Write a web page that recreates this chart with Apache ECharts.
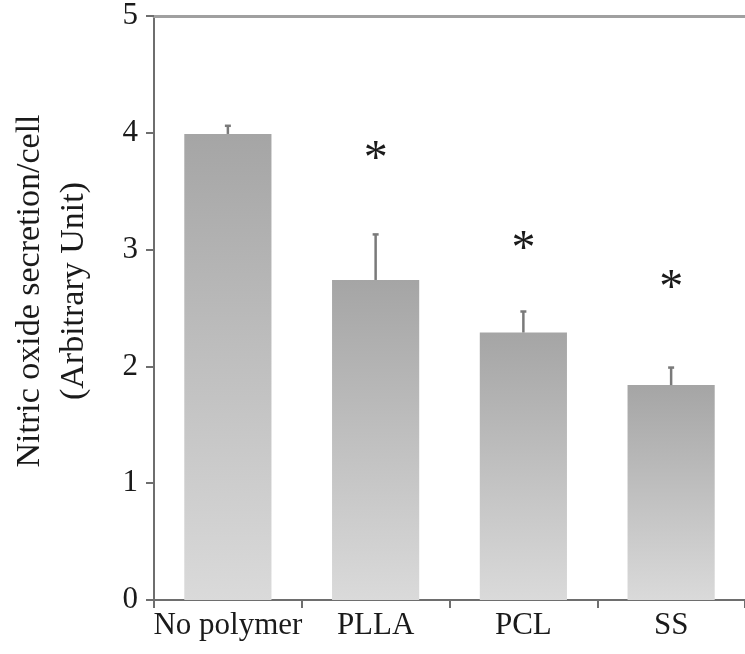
<!DOCTYPE html>
<html>
<head>
<meta charset="utf-8">
<script src="https://cdn.jsdelivr.net/npm/echarts@6/dist/echarts.min.js"></script>
<style>
html,body{margin:0;padding:0;background:#fff;}
#chart{width:745px;height:654px;}
</style>
</head>
<body>
<div id="chart"></div>
<script>
var categories = ['No polymer', 'PLLA', 'PCL', 'SS'];
var means = [3.99, 2.74, 2.29, 1.84];
var errTops = [4.06, 3.13, 2.47, 1.99];
var starIdx = [1, 2, 3];
var starVals = [3.82, 3.05, 2.72];
var yTicks = [0, 1, 2, 3, 4, 5];

var FONT = '"Liberation Serif", "Times New Roman", serif';
var chart = echarts.init(document.getElementById('chart'));

var errData = categories.map(function (c, i) { return [i, means[i], errTops[i]]; });
var starData = starIdx.map(function (k, i) { return [k, starVals[i]]; });

chart.setOption({
  animation: false,
  grid: { left: 154, top: 16, width: 598, height: 584, containLabel: false },
  xAxis: [{
    type: 'category',
    data: categories,
    position: 'bottom',
    axisLine: { onZero: false, lineStyle: { color: '#6e6e6e', width: 2 } },
    axisTick: { show: true, interval: 0, length: 8, inside: false, lineStyle: { color: '#6e6e6e', width: 2 } },
    axisLabel: { interval: 0, color: '#1a1a1a', fontFamily: FONT, fontSize: 31, margin: 10 }
  }, {
    type: 'category',
    data: categories,
    position: 'top',
    axisLine: { onZero: false, lineStyle: { color: '#a0a0a0', width: 3 } },
    axisTick: { show: false },
    axisLabel: { show: false }
  }],
  yAxis: {
    type: 'value',
    min: 0, max: 5, interval: 1,
    axisLine: { show: true, lineStyle: { color: '#6e6e6e', width: 2 } },
    axisTick: { show: true, length: 8, lineStyle: { color: '#6e6e6e', width: 2 } },
    splitLine: { show: false },
    axisLabel: { color: '#1a1a1a', fontFamily: FONT, fontSize: 31, margin: 16,
      formatter: function (v) { return yTicks.indexOf(v) >= 0 ? String(v) : ''; } },
    name: 'Nitric oxide secretion/cell\n(Arbitrary Unit)',
    nameLocation: 'middle',
    nameRotate: 90,
    nameGap: 58,
    nameTextStyle: { color: '#1a1a1a', fontFamily: FONT, fontSize: 34, lineHeight: 44, padding: [0, 0, 0, 34] }
  },
  series: [{
    type: 'bar',
    data: means,
    barCategoryGap: '41%',
    itemStyle: {
      color: new echarts.graphic.LinearGradient(0, 0, 0, 1, [
        { offset: 0, color: '#a5a5a5' },
        { offset: 1, color: '#dadada' }
      ])
    },
    z: 2
  }, {
    type: 'custom',
    data: errData,
    z: 3,
    renderItem: function (params, api) {
      var base = api.coord([api.value(0), api.value(1)]);
      var top = api.coord([api.value(0), api.value(2)]);
      var style = { stroke: '#7a7a7a', lineWidth: 2.5 };
      return { type: 'group', children: [
        { type: 'line', shape: { x1: base[0], y1: base[1], x2: top[0], y2: top[1] }, style: style },
        { type: 'line', shape: { x1: top[0] - 3, y1: top[1], x2: top[0] + 3, y2: top[1] }, style: style }
      ] };
    }
  }, {
    type: 'custom',
    data: starData,
    z: 4,
    renderItem: function (params, api) {
      var p = api.coord([api.value(0), api.value(1)]);
      return { type: 'text', x: p[0], y: p[1] + 7, style: {
        text: '*', fill: '#1a1a1a', font: '48px ' + FONT, align: 'center', verticalAlign: 'middle'
      } };
    }
  }]
});
</script>
</body>
</html>
